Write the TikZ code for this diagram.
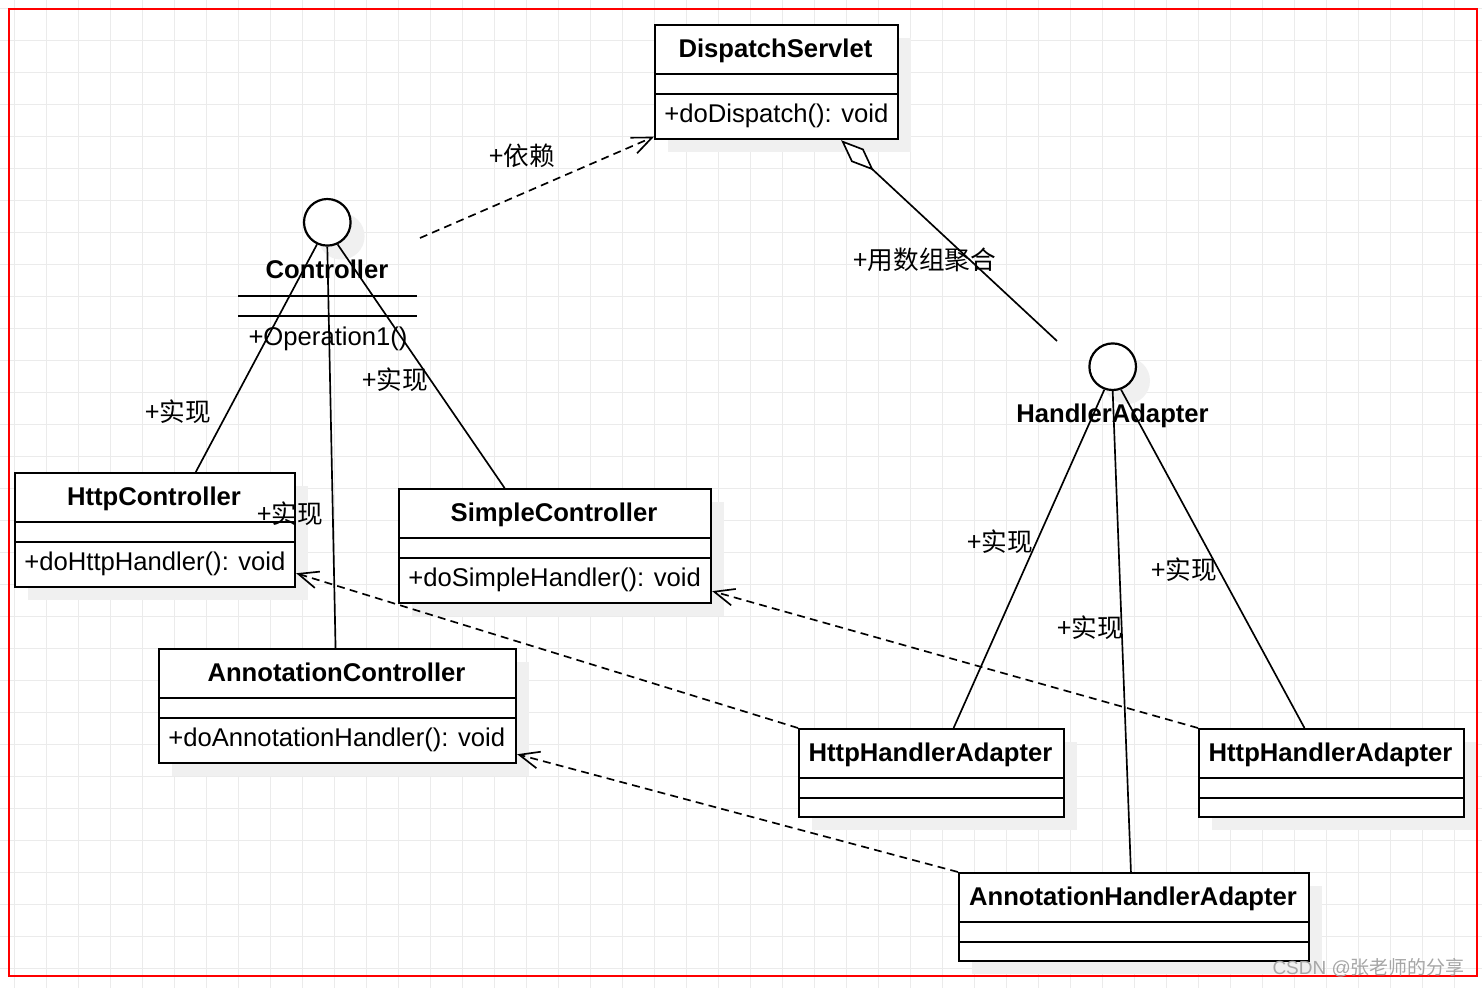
\documentclass[tikz,border=0pt]{standalone}
\usepackage{fontspec}
\setmainfont{Liberation Sans}
\newfontfamily\cjk{Noto Sans CJK SC}
\usetikzlibrary{arrows.meta}

\begin{document}
\begin{tikzpicture}[x=0.02cm,y=-0.02cm,
  classbox/.style={draw,line width=1.25pt,fill=white,anchor=north west,inner sep=0pt},
  iface/.style={circle,draw,line width=1.25pt,fill=white,inner sep=0pt,minimum size=0.932cm},
  titletext/.style={anchor=base,inner sep=0pt,font=\fontsize{14.6}{17}\selectfont\bfseries},
  membertext/.style={anchor=base west,inner sep=0pt,font=\fontsize{14.6}{17}\selectfont},
  lbl/.style={inner sep=0pt,font=\fontsize{14.6}{17}\selectfont\cjk},
  realize/.style={line width=0.95pt},
  depend/.style={line width=0.95pt,dash pattern=on 4.5pt off 3pt,-{Straight Barb[length=0.4cm,width=0.34cm]}}]
\definecolor{gridgray}{HTML}{EBEBEB}
\definecolor{shadowgray}{HTML}{F0F0F0}
\useasboundingbox (0,0) rectangle (1482,988);
\fill[white] (0,0) rectangle (1482,988);
\foreach \gx in {0,...,45} {\draw[gridgray,line width=0.55pt] (14.3+32*\gx,0) -- (14.3+32*\gx,988);}
\foreach \gy in {0,...,30} {\draw[gridgray,line width=0.55pt] (0,8+32*\gy) -- (1482,8+32*\gy);}

% classes
\foreach \nm/\x/\y/\w/\h/\ttl/\mth in {
    ds/654/24/243/114/DispatchServlet/{+doDispatch(): void},
    hc/14/472/280/114/HttpController/{+doHttpHandler(): void},
    sc/398/488/312/114/SimpleController/{+doSimpleHandler(): void},
    ac/158/648/357/114/AnnotationController/{+doAnnotationHandler(): void},
    ha1/798/728/265/88/HttpHandlerAdapter/{},
    ha2/1198/728/265/88/HttpHandlerAdapter/{},
    aha/958/872/350/88/AnnotationHandlerAdapter/{}}
{
  \fill[shadowgray] (\x+14,\y+14) rectangle ++(\w,\h);
  \node[classbox,minimum width=\w*0.02cm,minimum height=\h*0.02cm] (\nm) at (\x,\y) {};
  \draw[line width=1.25pt] (\x,\y+50) -- ++(\w,0) (\x,\y+70) -- ++(\w,0);
  \node[titletext] (\nm-t) at (\x+\w/2,\y+33) {\ttl};
  \node[membertext] (\nm-m) at (\x+10,\y+98) {\mth};
}

% interfaces
\fill[shadowgray] (341.3,236.3) circle[radius=0.466cm];
\fill[shadowgray] (1126.7,380.7) circle[radius=0.466cm];
\node[iface] (ctrl) at (327.3,222.3) {};
\node[iface] (hadp) at (1112.7,366.7) {};
\node[titletext] (ctrl-name) at (327,278) {Controller};
\draw[line width=1.25pt] (238,296) -- (417,296) (238,316) -- (417,316);
\node[membertext,anchor=base] (ctrl-op) at (328,345) {+Operation1()};
\node[titletext] (hadp-name) at (1112.5,422) {HandlerAdapter};

% connectors
\draw[realize] (ctrl.245) -- (hc.55);
\draw[realize] (ctrl.south) -- (ac.92);
\draw[realize] (ctrl.295) -- (sc.131);
\draw[realize] (hadp.250) -- (ha1.64);
\draw[realize] (hadp.south) -- (aha.94);
\draw[realize] (hadp.290) -- (ha2.121);
\draw[depend] (ha1.north west) -- (hc.343);
\draw[depend] (ha2.north west) -- (sc.344);
\draw[depend] (aha.north west) -- (ac.345);
\coordinate (dep-start) at (420,238);
\draw[depend] (dep-start) -- (ds.204);
\coordinate (agg-start) at (1057,341);
\draw[realize,-{Diamond[fill=white,length=0.89cm,width=0.36cm]}] (agg-start) -- (ds.318);

% labels
\node[lbl] (l-dep) at (522,156) {+依赖};
\node[lbl] (l-agg) at (925,260) {+用数组聚合};
\foreach \nm/\lx/\ly in {r1/178/412,r2/290/514,r3/395/380,r4/1000/542,r5/1090/628,r6/1184/570}
  {\node[lbl] (\nm) at (\lx,\ly) {+实现};}

\draw[red,line width=1.2pt] (9,9) rectangle (1477,976);
\node[inner sep=0pt,anchor=east,text=gray!70,font=\fontsize{10.8}{13}\selectfont] (mark) at (1465,968) {CSDN @{\cjk 张老师的分享}};
\end{tikzpicture}
\end{document}
